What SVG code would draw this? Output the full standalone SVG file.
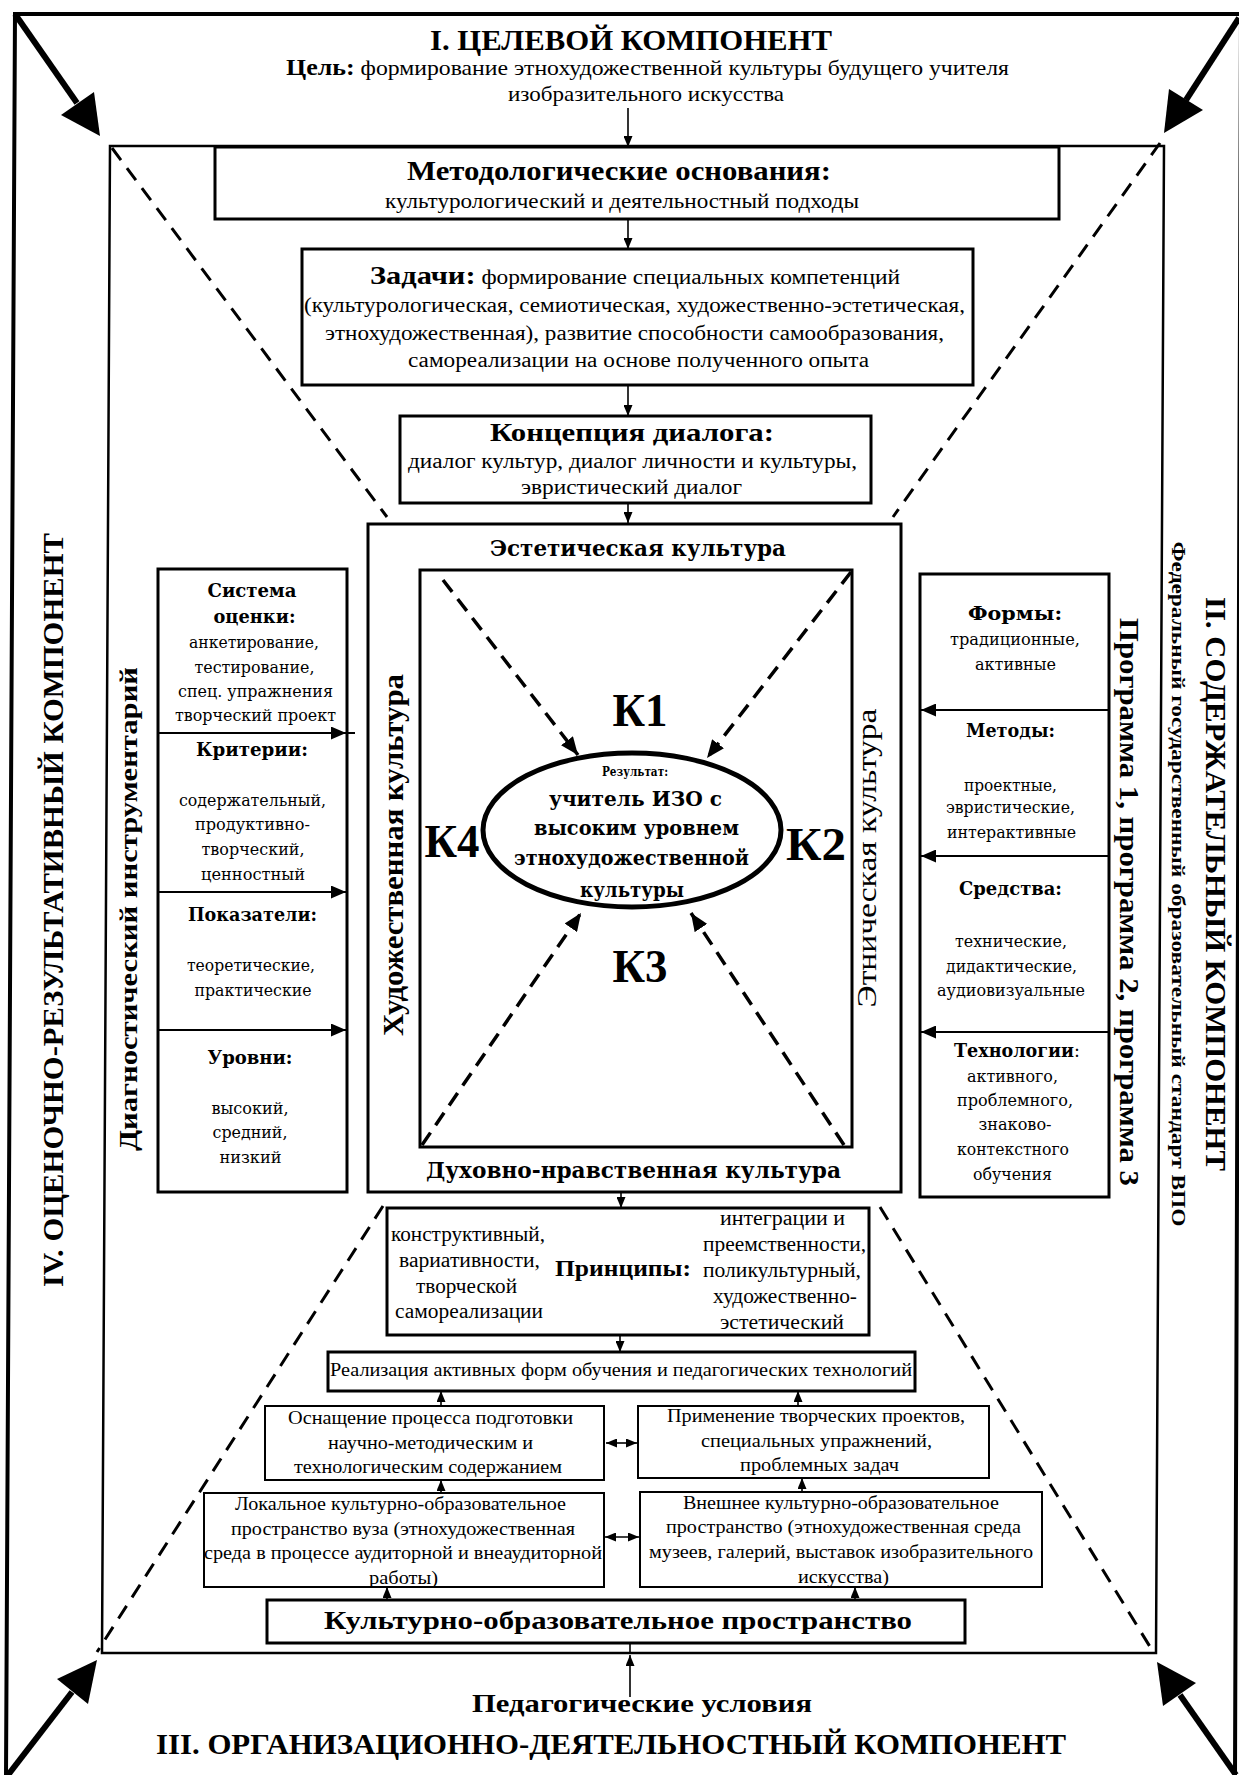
<svg xmlns="http://www.w3.org/2000/svg" width="1239" height="1775" viewBox="0 0 1239 1775">
<style>
text{fill:#000}
.s{font-family:"Liberation Serif","Times New Roman",serif}
.d{font-family:"DejaVu Serif","Liberation Serif",serif}
.b{font-weight:bold}
.m{text-anchor:middle}
.bx{fill:none;stroke:#000;stroke-width:3}
.bx2{fill:none;stroke:#000;stroke-width:2}
.c{stroke:#000;stroke-width:1.6;fill:none}
.dv{stroke:#000;stroke-width:2;fill:none}
.ds{stroke:#000;stroke-width:3;stroke-dasharray:15 10;fill:none}
.dk{stroke:#000;stroke-width:3.5;stroke-dasharray:15 9;fill:none}
.ca{stroke:#000;stroke-width:6;fill:none}
</style>
<defs>
<marker id="ah" viewBox="0 0 11 9" refX="11" refY="4.5" markerWidth="11" markerHeight="9" markerUnits="userSpaceOnUse" orient="auto-start-reverse"><path d="M0,0L11,4.5L0,9z"/></marker>
<marker id="am" viewBox="0 0 15 13" refX="15" refY="6.5" markerWidth="15" markerHeight="13" markerUnits="userSpaceOnUse" orient="auto"><path d="M0,0L15,6.5L0,13z"/></marker>
<marker id="ak" viewBox="0 0 18 15" refX="18" refY="7.5" markerWidth="18" markerHeight="15" markerUnits="userSpaceOnUse" orient="auto"><path d="M0,0L18,7.5L0,15z"/></marker>
</defs>
<rect width="1239" height="1775" fill="#fff"/>

<g id="frames">
<path d="M15,14 L1241,14 M15,12 L6,1775 M1241,12 L1235,1775" fill="none" stroke="#000" stroke-width="4"/>
<path d="M110,146 L1164,146 L1156,1653 L102,1653 Z" fill="none" stroke="#000" stroke-width="2.5"/>
</g>

<g id="component-1">
<text class="s b m" x="631" y="50" font-size="30" textLength="402" lengthAdjust="spacingAndGlyphs">I. ЦЕЛЕВОЙ КОМПОНЕНТ</text>
<text class="s m" x="647.5" y="75" font-size="21" textLength="723" lengthAdjust="spacingAndGlyphs"><tspan class="b" font-size="23">Цель:</tspan> формирование этнохудожественной  культуры будущего учителя</text>
<text class="s m" x="646" y="101" font-size="21" textLength="276" lengthAdjust="spacingAndGlyphs">изобразительного искусства</text>
</g>

<g id="component-4">
<text class="s b m" transform="translate(63,910) rotate(-90)" font-size="30" textLength="754" lengthAdjust="spacingAndGlyphs">IV. ОЦЕНОЧНО-РЕЗУЛЬТАТИВНЫЙ КОМПОНЕНТ</text>
<text class="s b m" transform="translate(137,909) rotate(-90)" font-size="26" textLength="484" lengthAdjust="spacingAndGlyphs">Диагностический инструментарий</text>
</g>

<g id="component-2">
<text class="s b m" transform="translate(1206,884) rotate(90)" font-size="29" textLength="574" lengthAdjust="spacingAndGlyphs">II. СОДЕРЖАТЕЛЬНЫЙ КОМПОНЕНТ</text>
<text class="s b m" transform="translate(1172,884) rotate(90)" font-size="19" textLength="685" lengthAdjust="spacingAndGlyphs">Федеральный государственный образовательный стандарт ВПО</text>
<text class="s b m" transform="translate(1120,902) rotate(90)" font-size="28" textLength="568" lengthAdjust="spacingAndGlyphs">Программа 1, программа 2, программа 3</text>
</g>

<g id="component-3">
<text class="s b m" x="642" y="1712" font-size="26" textLength="340" lengthAdjust="spacingAndGlyphs">Педагогические условия</text>
<text class="s b m" x="611" y="1754" font-size="30" textLength="910" lengthAdjust="spacingAndGlyphs">III. ОРГАНИЗАЦИОННО-ДЕЯТЕЛЬНОСТНЫЙ КОМПОНЕНТ</text>
</g>

<g id="method">
<rect class="bx" x="215" y="147" width="844" height="72"/>
<text class="s b m" x="619" y="180" font-size="27" textLength="424" lengthAdjust="spacingAndGlyphs">Методологические основания:</text>
<text class="s m" x="622" y="208" font-size="20" textLength="474" lengthAdjust="spacingAndGlyphs">культурологический и деятельностный подходы</text>
</g>

<g id="tasks">
<rect class="bx" x="302" y="249" width="671" height="136"/>
<text class="s m" x="635" y="284" font-size="20" textLength="530" lengthAdjust="spacingAndGlyphs"><tspan class="b" font-size="26">Задачи:</tspan> формирование специальных компетенций</text>
<text class="s m" x="634.5" y="312" font-size="20" textLength="661" lengthAdjust="spacingAndGlyphs">(культурологическая, семиотическая, художественно-эстетическая,</text>
<text class="s m" x="634.5" y="340" font-size="20" textLength="619" lengthAdjust="spacingAndGlyphs">этнохудожественная), развитие способности самообразования,</text>
<text class="s m" x="638.5" y="367" font-size="20" textLength="461" lengthAdjust="spacingAndGlyphs">самореализации на основе полученного опыта</text>
</g>

<g id="dialog">
<rect class="bx" x="400" y="416" width="471" height="87"/>
<text class="s b m" x="632" y="441" font-size="26" textLength="284" lengthAdjust="spacingAndGlyphs">Концепция диалога:</text>
<text class="s m" x="632.5" y="468" font-size="20" textLength="449" lengthAdjust="spacingAndGlyphs">диалог культур, диалог личности и культуры,</text>
<text class="s m" x="631.5" y="494" font-size="20" textLength="221" lengthAdjust="spacingAndGlyphs">эвристический диалог</text>
</g>

<g id="culture">
<rect class="bx" x="368" y="524" width="533" height="668"/>
<rect class="bx" x="420" y="570" width="432" height="577"/>
<text class="d b m" x="638" y="556" font-size="22" textLength="296" lengthAdjust="spacingAndGlyphs">Эстетическая культура</text>
<text class="d b m" x="633.5" y="1178" font-size="22" textLength="415" lengthAdjust="spacingAndGlyphs">Духовно-нравственная культура</text>
<text class="s b m" transform="translate(403,855) rotate(-90)" font-size="30" textLength="362" lengthAdjust="spacingAndGlyphs">Художественная культура</text>
<text class="s m" transform="translate(876,858) rotate(-90)" font-size="28" textLength="299" lengthAdjust="spacingAndGlyphs">Этническая культура</text>
<text class="s b m" x="640" y="726" font-size="46" textLength="55" lengthAdjust="spacingAndGlyphs">К1</text>
<text class="s b m" x="816" y="860" font-size="46" textLength="60" lengthAdjust="spacingAndGlyphs">К2</text>
<text class="s b m" x="640" y="982" font-size="46" textLength="55" lengthAdjust="spacingAndGlyphs">К3</text>
<text class="s b m" x="452" y="857" font-size="46" textLength="55" lengthAdjust="spacingAndGlyphs">К4</text>
</g>

<g id="result">
<ellipse cx="632" cy="830" rx="149" ry="77" fill="none" stroke="#000" stroke-width="5"/>
<text class="d b m" x="635" y="776" font-size="12" textLength="66" lengthAdjust="spacingAndGlyphs">Результат:</text>
<text class="d b m" x="635.5" y="806" font-size="21" textLength="173" lengthAdjust="spacingAndGlyphs">учитель ИЗО с</text>
<text class="d b m" x="636.5" y="835" font-size="21" textLength="205" lengthAdjust="spacingAndGlyphs">высоким уровнем</text>
<text class="d b m" x="631.5" y="865" font-size="21" textLength="235" lengthAdjust="spacingAndGlyphs">этнохудожественной</text>
<text class="d b m" x="632" y="897" font-size="21" textLength="104" lengthAdjust="spacingAndGlyphs">культуры</text>
</g>

<g id="diagnostics">
<rect class="bx" x="158" y="569" width="189" height="623"/>
<text class="d b m" x="252" y="597" font-size="18" textLength="89" lengthAdjust="spacingAndGlyphs">Система</text>
<text class="d b m" x="254.5" y="623" font-size="18" textLength="82" lengthAdjust="spacingAndGlyphs">оценки:</text>
<text class="d m" x="254" y="648" font-size="16" textLength="130" lengthAdjust="spacingAndGlyphs">анкетирование,</text>
<text class="d m" x="254.5" y="673" font-size="16" textLength="120" lengthAdjust="spacingAndGlyphs">тестирование,</text>
<text class="d m" x="255.5" y="697" font-size="16" textLength="155" lengthAdjust="spacingAndGlyphs">спец. упражнения</text>
<text class="d m" x="255.5" y="721" font-size="16" textLength="161" lengthAdjust="spacingAndGlyphs">творческий проект</text>
<text class="d b m" x="252" y="756" font-size="18" textLength="112" lengthAdjust="spacingAndGlyphs">Критерии:</text>
<text class="d m" x="252.5" y="806" font-size="16" textLength="147" lengthAdjust="spacingAndGlyphs">содержательный,</text>
<text class="d m" x="252.5" y="830" font-size="16" textLength="115" lengthAdjust="spacingAndGlyphs">продуктивно-</text>
<text class="d m" x="253" y="855" font-size="16" textLength="103" lengthAdjust="spacingAndGlyphs">творческий,</text>
<text class="d m" x="253" y="880" font-size="16" textLength="104" lengthAdjust="spacingAndGlyphs">ценностный</text>
<text class="d b m" x="252.5" y="921" font-size="18" textLength="129" lengthAdjust="spacingAndGlyphs">Показатели:</text>
<text class="d m" x="251" y="971" font-size="16" textLength="128" lengthAdjust="spacingAndGlyphs">теоретические,</text>
<text class="d m" x="253" y="996" font-size="16" textLength="117" lengthAdjust="spacingAndGlyphs">практические</text>
<text class="d b m" x="250" y="1064" font-size="18" textLength="85" lengthAdjust="spacingAndGlyphs">Уровни:</text>
<text class="d m" x="250" y="1114" font-size="16" textLength="77" lengthAdjust="spacingAndGlyphs">высокий,</text>
<text class="d m" x="250" y="1138" font-size="16" textLength="75" lengthAdjust="spacingAndGlyphs">средний,</text>
<text class="d m" x="250.5" y="1163" font-size="16" textLength="62" lengthAdjust="spacingAndGlyphs">низкий</text>
</g>

<g id="forms">
<rect class="bx" x="920" y="574" width="189" height="623"/>
<text class="d b m" x="1015" y="620" font-size="18" textLength="94" lengthAdjust="spacingAndGlyphs">Формы:</text>
<text class="d m" x="1015" y="645" font-size="16" textLength="130" lengthAdjust="spacingAndGlyphs">традиционные,</text>
<text class="d m" x="1015.5" y="670" font-size="16" textLength="81" lengthAdjust="spacingAndGlyphs">активные</text>
<text class="d b m" x="1010.5" y="737" font-size="18" textLength="89" lengthAdjust="spacingAndGlyphs">Методы:</text>
<text class="d m" x="1010.5" y="791" font-size="16" textLength="93" lengthAdjust="spacingAndGlyphs">проектные,</text>
<text class="d m" x="1010.5" y="813" font-size="16" textLength="129" lengthAdjust="spacingAndGlyphs">эвристические,</text>
<text class="d m" x="1011.5" y="838" font-size="16" textLength="129" lengthAdjust="spacingAndGlyphs">интерактивные</text>
<text class="d b m" x="1010.5" y="895" font-size="18" textLength="103" lengthAdjust="spacingAndGlyphs">Средства:</text>
<text class="d m" x="1011" y="947" font-size="16" textLength="112" lengthAdjust="spacingAndGlyphs">технические,</text>
<text class="d m" x="1011.5" y="972" font-size="16" textLength="131" lengthAdjust="spacingAndGlyphs">дидактические,</text>
<text class="d m" x="1011" y="996" font-size="16" textLength="148" lengthAdjust="spacingAndGlyphs">аудиовизуальные</text>
<text class="d m" x="1017" y="1057" font-size="18" textLength="126" lengthAdjust="spacingAndGlyphs"><tspan class="b">Технологии</tspan>:</text>
<text class="d m" x="1012.5" y="1082" font-size="16" textLength="91" lengthAdjust="spacingAndGlyphs">активного,</text>
<text class="d m" x="1015" y="1106" font-size="16" textLength="116" lengthAdjust="spacingAndGlyphs">проблемного,</text>
<text class="d m" x="1015" y="1130" font-size="16" textLength="73" lengthAdjust="spacingAndGlyphs">знаково-</text>
<text class="d m" x="1013" y="1155" font-size="16" textLength="112" lengthAdjust="spacingAndGlyphs">контекстного</text>
<text class="d m" x="1012.5" y="1180" font-size="16" textLength="79" lengthAdjust="spacingAndGlyphs">обучения</text>
</g>

<g id="principles">
<rect class="bx" x="387" y="1208" width="482" height="127" stroke-width="2.5"/>
<text class="s m" x="468" y="1241" font-size="20" textLength="154" lengthAdjust="spacingAndGlyphs">конструктивный,</text>
<text class="s m" x="469.5" y="1267" font-size="20" textLength="141" lengthAdjust="spacingAndGlyphs">вариативности,</text>
<text class="s m" x="466.5" y="1293" font-size="20" textLength="101" lengthAdjust="spacingAndGlyphs">творческой</text>
<text class="s m" x="469" y="1318" font-size="20" textLength="148" lengthAdjust="spacingAndGlyphs">самореализации</text>
<text class="s b m" x="623" y="1276" font-size="23" textLength="136" lengthAdjust="spacingAndGlyphs">Принципы:</text>
<text class="s m" x="782.5" y="1225" font-size="20" textLength="125" lengthAdjust="spacingAndGlyphs">интеграции и</text>
<text class="s m" x="784.5" y="1251" font-size="20" textLength="163" lengthAdjust="spacingAndGlyphs">преемственности,</text>
<text class="s m" x="782" y="1277" font-size="20" textLength="158" lengthAdjust="spacingAndGlyphs">поликультурный,</text>
<text class="s m" x="785" y="1303" font-size="20" textLength="144" lengthAdjust="spacingAndGlyphs">художественно-</text>
<text class="s m" x="782" y="1329" font-size="20" textLength="124" lengthAdjust="spacingAndGlyphs">эстетический</text>
</g>

<g id="realization">
<rect class="bx" x="328" y="1352" width="587" height="39" stroke-width="2.5"/>
<text class="s m" x="621" y="1376" font-size="19" textLength="582" lengthAdjust="spacingAndGlyphs">Реализация активных форм обучения и педагогических технологий</text>
</g>

<g id="equipment">
<rect class="bx2" x="265" y="1406" width="339" height="74"/>
<text class="s m" x="430.5" y="1424" font-size="19" textLength="285" lengthAdjust="spacingAndGlyphs">Оснащение процесса подготовки</text>
<text class="s m" x="430.5" y="1449" font-size="19" textLength="205" lengthAdjust="spacingAndGlyphs">научно-методическим и</text>
<text class="s m" x="428" y="1473" font-size="19" textLength="268" lengthAdjust="spacingAndGlyphs">технологическим содержанием</text>
</g>

<g id="application">
<rect class="bx2" x="638" y="1406" width="351" height="72"/>
<text class="s m" x="816" y="1422" font-size="19" textLength="298" lengthAdjust="spacingAndGlyphs">Применение творческих проектов,</text>
<text class="s m" x="816.5" y="1447" font-size="19" textLength="231" lengthAdjust="spacingAndGlyphs">специальных упражнений,</text>
<text class="s m" x="819.5" y="1471" font-size="19" textLength="159" lengthAdjust="spacingAndGlyphs">проблемных задач</text>
</g>

<g id="local-space">
<rect class="bx2" x="204" y="1493" width="400" height="94"/>
<text class="s m" x="400.5" y="1510" font-size="19" textLength="331" lengthAdjust="spacingAndGlyphs">Локальное культурно-образовательное</text>
<text class="s m" x="403" y="1535" font-size="19" textLength="344" lengthAdjust="spacingAndGlyphs">пространство вуза (этнохудожественная</text>
<text class="s m" x="403" y="1559" font-size="19" textLength="398" lengthAdjust="spacingAndGlyphs">среда в процессе аудиторной и внеаудиторной</text>
<text class="s m" x="403.5" y="1584" font-size="19" textLength="69" lengthAdjust="spacingAndGlyphs">работы)</text>
</g>

<g id="external-space">
<rect class="bx2" x="640" y="1492" width="402" height="95"/>
<text class="s m" x="841" y="1509" font-size="19" textLength="316" lengthAdjust="spacingAndGlyphs">Внешнее культурно-образовательное</text>
<text class="s m" x="843.5" y="1533" font-size="19" textLength="355" lengthAdjust="spacingAndGlyphs">пространство (этнохудожественная среда</text>
<text class="s m" x="841" y="1558" font-size="19" textLength="384" lengthAdjust="spacingAndGlyphs">музеев, галерий, выставок изобразительного</text>
<text class="s m" x="843.5" y="1583" font-size="19" textLength="91" lengthAdjust="spacingAndGlyphs">искусства)</text>
</g>

<g id="space">
<rect class="bx" x="267" y="1600" width="698" height="43" stroke-width="2.5"/>
<text class="s b m" x="618" y="1629" font-size="26" textLength="588" lengthAdjust="spacingAndGlyphs">Культурно-образовательное пространство</text>
</g>

<g id="connectors">
<path class="ds" d="M112,148 L387,517"/>
<path class="ds" d="M1160,143 L893,517"/>
<path class="ds" d="M383,1206 L97,1652"/>
<path class="ds" d="M880,1207 L1152,1650"/>

<path class="ca" d="M15,14 L77,103"/>
<polygon points="100,136 61,115 94,92"/>
<path class="ca" d="M1239,18 L1186,100"/>
<polygon points="1164,133 1169,89 1203,110"/>
<path class="ca" d="M8,1775 L72,1692"/>
<polygon points="97,1660 88,1704 57,1679"/>
<path class="ca" d="M1236,1775 L1180,1695"/>
<polygon points="1157,1662 1196,1683 1163,1706"/>

<path class="c" d="M628,108 L628,147" marker-end="url(#ah)"/>
<path class="c" d="M628,219 L628,249" marker-end="url(#ah)"/>
<path class="c" d="M628,385 L628,416" marker-end="url(#ah)"/>
<path class="c" d="M628,503 L628,523" marker-end="url(#ah)"/>

<path class="dk" d="M443,580 L578,755" marker-end="url(#ak)"/>
<path class="dk" d="M851,572 L707,758" marker-end="url(#ak)"/>
<path class="dk" d="M422,1145 L581,913" marker-end="url(#ak)"/>
<path class="dk" d="M844,1145 L691,913" marker-end="url(#ak)"/>

<path class="dv" d="M158,733 L346,733" marker-end="url(#am)"/>
<path class="dv" d="M346,733 L355,733"/>
<path class="dv" d="M158,892 L346,892" marker-end="url(#am)"/>
<path class="dv" d="M158,1030 L346,1030" marker-end="url(#am)"/>
<path class="dv" d="M1109,710 L921,710" marker-end="url(#am)"/>
<path class="dv" d="M1109,856 L921,856" marker-end="url(#am)"/>
<path class="dv" d="M1109,1032 L921,1032" marker-end="url(#am)"/>

<path class="c" d="M621,1192 L621,1208" marker-end="url(#ah)"/>
<path class="c" d="M620,1335 L620,1352" marker-end="url(#ah)"/>
<path class="c" d="M441,1406 L441,1391" marker-end="url(#ah)"/>
<path class="c" d="M798,1406 L798,1391" marker-end="url(#ah)"/>
<path class="c" d="M606,1443 L637,1443" marker-start="url(#ah)" marker-end="url(#ah)"/>
<path class="c" d="M441,1493 L441,1480" marker-end="url(#ah)"/>
<path class="c" d="M802,1492 L802,1478" marker-end="url(#ah)"/>
<path class="c" d="M605,1537 L639,1537" marker-start="url(#ah)" marker-end="url(#ah)" stroke-width="2.2"/>
<path class="c" d="M387,1600 L387,1587" marker-end="url(#ah)"/>
<path class="c" d="M855,1600 L855,1587" marker-end="url(#ah)"/>
<path class="c" d="M630,1643 L630,1653"/>
<path class="c" d="M630,1697 L630,1655" marker-end="url(#ah)"/>
</g>
</svg>
